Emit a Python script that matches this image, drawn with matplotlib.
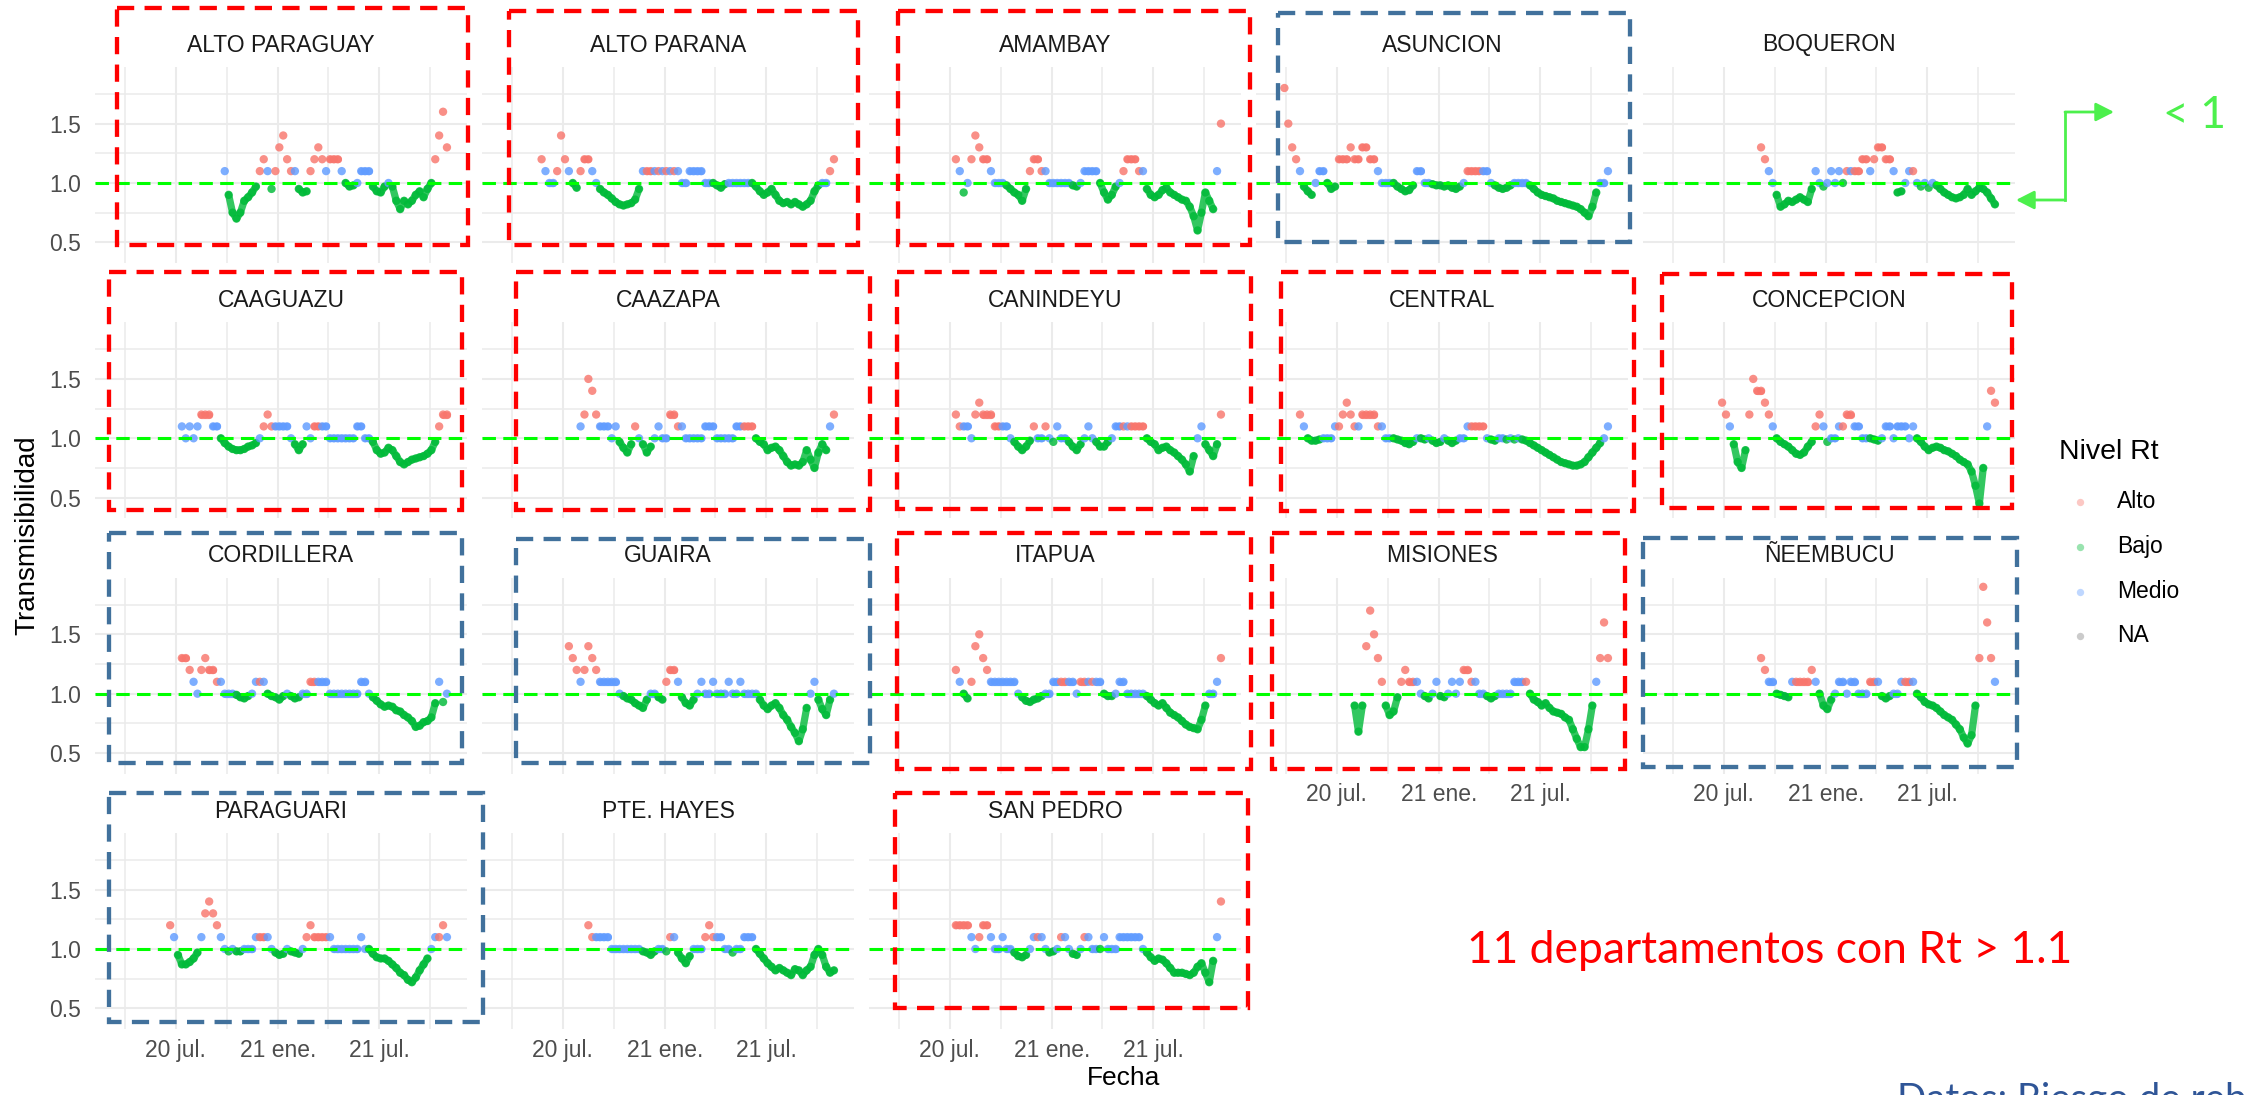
import matplotlib
matplotlib.use("Agg")
import matplotlib.pyplot as plt
import matplotlib.dates as mdates
from matplotlib.patches import Rectangle
import pandas as pd

plt.rcParams["font.family"] = ["Liberation Sans", "DejaVu Sans"]

# ------------------------------------------------------------------ data
A, B, M = "Alto", "Bajo", "Medio"
NIVELES = ["Alto", "Bajo", "Medio", "NA"]
COLOR_NIVEL = {"Alto": "#F8766D", "Bajo": "#00BA38", "Medio": "#619CFF", "NA": "#7F7F7F"}

# weekly readings (Rt, Nivel) starting at the given date
ALTO_PARAGUAY_INICIO = "2020-09-27"
ALTO_PARAGUAY = [
    (1.1, M), (0.90, B), (0.75, B), (0.70, B), (0.75, B), (0.85, B), (0.88, B), (0.92, B), (0.97, B), (1.1, A),
    (1.2, A), (1.1, M), (0.95, B), (1.1, A), (1.3, A), (1.4, A), (1.2, A), (1.1, A), (1.1, M), (0.95, B),
    (0.92, B), (0.93, B), (1.1, A), (1.2, A), (1.3, A), (1.2, A), (1.1, M), (1.2, A), (1.2, A), (1.2, A),
    (1.1, M), (1.0, B), (0.97, B), (0.98, B), (1.0, M), (1.1, M), (1.1, M), (1.1, M), (0.97, B), (0.93, B),
    (0.92, B), (0.97, B), (1.0, M), (0.97, B), (0.85, B), (0.78, B), (0.85, B), (0.82, B), (0.85, B), (0.90, B),
    (0.93, B), (0.88, B), (0.95, B), (1.0, B), (1.2, A), (1.4, A), (1.6, A), (1.3, A),
]

ALTO_PARANA_INICIO = "2020-05-24"
ALTO_PARANA = [
    (1.2, A), (1.1, M), (1.0, M), (1.0, M), (1.1, A), (1.4, A), (1.2, A), (1.1, M), (1.0, B), (0.96, B),
    (1.1, A), (1.2, A), (1.2, A), (1.1, M), (1.0, M), (0.95, B), (0.92, B), (0.90, B), (0.87, B), (0.84, B),
    (0.82, B), (0.81, B), (0.82, B), (0.83, B), (0.86, B), (0.95, B), (1.1, M), (1.1, A), (1.1, A), (1.1, M),
    (1.1, A), (1.1, M), (1.1, A), (1.1, M), (1.1, A), (1.1, M), (1.0, M), (1.0, M), (1.1, M), (1.1, M),
    (1.1, M), (1.1, M), (1.0, M), (1.0, M), (1.0, B), (0.98, B), (0.96, B), (0.99, B), (1.0, M), (1.0, M),
    (1.0, M), (1.0, M), (1.0, M), (1.0, M), (1.0, B), (0.97, B), (0.93, B), (0.90, B), (0.92, B), (0.95, B),
    (0.90, B), (0.85, B), (0.83, B), (0.84, B), (0.82, B), (0.84, B), (0.82, B), (0.80, B), (0.82, B), (0.85, B),
    (0.93, B), (0.98, B), (1.0, M), (1.0, M), (1.1, A), (1.2, A),
]

AMAMBAY_INICIO = "2020-07-12"
AMAMBAY = [
    (1.2, A), (1.1, M), (0.92, B), (1.0, M), (1.2, A), (1.4, A), (1.3, A), (1.2, A), (1.2, A), (1.1, M),
    (1.0, M), (1.0, M), (1.0, M), (0.98, B), (0.95, B), (0.92, B), (0.90, B), (0.85, B), (0.95, B), (1.1, A),
    (1.2, A), (1.2, A), (1.1, A), (1.1, M), (1.0, M), (1.0, M), (1.0, M), (1.0, M), (1.0, M), (1.0, M),
    (0.98, B), (0.97, B), (1.0, M), (1.1, M), (1.1, M), (1.1, M), (1.1, M), (1.0, B), (0.92, B), (0.86, B),
    (0.90, B), (0.97, B), (1.0, M), (1.1, A), (1.2, A), (1.2, A), (1.2, A), (1.1, A), (1.1, M), (0.95, B),
    (0.90, B), (0.88, B), (0.90, B), (0.94, B), (0.96, B), (0.92, B), (0.90, B), (0.88, B), (0.86, B), (0.85, B),
    (0.80, B), (0.72, B), (0.60, B), (0.75, B), (0.92, B), (0.85, B), (0.78, B), (1.1, M), (1.5, A),
]

ASUNCION_INICIO = "2020-03-29"
ASUNCION = [
    (1.8, A), (1.5, A), (1.3, A), (1.2, A), (1.1, M), (0.97, B), (0.93, B), (0.90, B), (1.0, M), (1.1, M),
    (1.1, M), (1.0, B), (0.95, B), (0.97, B), (1.2, A), (1.2, A), (1.2, A), (1.3, A), (1.2, A), (1.2, A),
    (1.3, A), (1.3, A), (1.2, A), (1.2, A), (1.1, M), (1.0, M), (1.0, M), (1.0, M), (1.0, B), (0.97, B),
    (0.95, B), (0.93, B), (0.94, B), (0.98, B), (1.1, M), (1.1, M), (1.0, M), (1.0, M), (0.99, B), (0.98, B),
    (0.98, B), (0.97, B), (0.98, B), (0.96, B), (0.95, B), (0.97, B), (1.0, M), (1.1, A), (1.1, A), (1.1, A),
    (1.1, A), (1.1, M), (1.1, M), (1.0, M), (0.98, B), (0.96, B), (0.95, B), (0.96, B), (0.98, B), (1.0, M),
    (1.0, M), (1.0, M), (1.0, M), (0.98, B), (0.95, B), (0.92, B), (0.90, B), (0.89, B), (0.88, B), (0.87, B),
    (0.85, B), (0.84, B), (0.83, B), (0.82, B), (0.81, B), (0.80, B), (0.78, B), (0.75, B), (0.72, B), (0.80, B),
    (0.92, B), (1.0, M), (1.0, M), (1.1, M),
]

BOQUERON_INICIO = "2020-09-06"
BOQUERON = [
    (1.3, A), (1.2, A), (1.1, M), (1.0, M), (0.90, B), (0.80, B), (0.82, B), (0.85, B), (0.84, B), (0.86, B),
    (0.88, B), (0.86, B), (0.84, B), (0.95, B), (1.1, M), (1.0, M), (0.97, B), (1.0, M), (1.1, M), (1.0, M),
    (1.1, M), (1.0, B), (1.1, A), (1.1, M), (1.1, A), (1.1, A), (1.2, A), (1.2, A), (1.1, M), (1.2, A),
    (1.3, A), (1.3, A), (1.2, A), (1.2, A), (1.1, M), (0.92, B), (0.93, B), (1.0, M), (1.1, M), (1.1, A),
    (1.0, M), (0.97, B), (1.0, M), (0.96, B), (1.0, M), (0.98, B), (0.95, B), (0.92, B), (0.90, B), (0.88, B),
    (0.87, B), (0.88, B), (0.90, B), (0.95, B), (0.90, B), (0.93, B), (0.96, B), (0.95, B), (0.92, B), (0.87, B),
    (0.82, B),
]

CAAGUAZU_INICIO = "2020-07-12"
CAAGUAZU = [
    (1.1, M), (1.0, M), (1.1, M), (1.0, M), (1.1, M), (1.2, A), (1.2, A), (1.2, A), (1.1, M), (1.1, M),
    (1.0, B), (0.96, B), (0.93, B), (0.91, B), (0.90, B), (0.90, B), (0.91, B), (0.93, B), (0.94, B), (0.96, B),
    (1.0, M), (1.1, A), (1.2, A), (1.1, A), (1.1, M), (1.1, M), (1.1, M), (1.1, M), (1.0, M), (0.95, B),
    (0.90, B), (0.95, B), (1.1, M), (1.0, M), (1.1, A), (1.1, A), (1.1, M), (1.1, M), (1.0, M), (1.0, M),
    (1.0, M), (1.0, M), (1.0, M), (1.0, M), (1.0, M), (1.1, M), (1.1, M), (1.0, M), (1.0, M), (0.97, B),
    (0.90, B), (0.87, B), (0.88, B), (0.92, B), (0.90, B), (0.85, B), (0.80, B), (0.78, B), (0.80, B), (0.82, B),
    (0.83, B), (0.84, B), (0.85, B), (0.87, B), (0.90, B), (0.97, B), (1.1, A), (1.2, A), (1.2, A),
]

CAAZAPA_INICIO = "2020-08-02"
CAAZAPA = [
    (1.1, M), (1.2, A), (1.5, A), (1.4, A), (1.2, A), (1.1, M), (1.1, M), (1.1, M), (1.0, M), (1.1, M),
    (0.97, B), (0.92, B), (0.88, B), (0.95, B), (1.1, A), (1.0, M), (0.95, B), (0.88, B), (0.93, B), (1.0, M),
    (1.1, M), (1.0, M), (1.0, M), (1.2, A), (1.2, A), (1.1, A), (1.1, M), (1.0, M), (1.0, M), (1.0, M),
    (1.0, M), (1.0, M), (1.1, M), (1.1, M), (1.1, M), (1.0, M), (1.0, M), (1.0, M), (1.0, M), (1.0, M),
    (1.1, M), (1.1, M), (1.1, A), (1.1, A), (1.1, A), (1.0, B), (0.97, B), (0.95, B), (0.90, B), (0.92, B),
    (0.93, B), (0.90, B), (0.85, B), (0.80, B), (0.77, B), (0.78, B), (0.77, B), (0.80, B), (0.90, B), (0.82, B),
    (0.75, B), (0.88, B), (0.95, B), (0.90, B), (1.1, M), (1.2, A),
]

CANINDEYU_INICIO = "2020-07-12"
CANINDEYU = [
    (1.2, A), (1.1, A), (1.1, M), (1.1, M), (1.0, M), (1.2, A), (1.3, A), (1.2, A), (1.2, A), (1.2, A),
    (1.1, A), (1.1, A), (1.1, M), (1.1, M), (1.0, M), (0.97, B), (0.93, B), (0.90, B), (0.93, B), (0.98, B),
    (1.1, A), (1.0, M), (1.0, M), (1.1, A), (1.0, M), (0.97, B), (1.1, M), (1.0, M), (1.0, M), (0.97, B),
    (0.93, B), (0.90, B), (0.95, B), (1.0, M), (1.1, M), (1.0, M), (0.97, B), (0.93, B), (0.93, B), (0.97, B),
    (1.0, M), (1.1, M), (1.1, M), (1.1, A), (1.1, M), (1.1, A), (1.1, A), (1.1, A), (1.1, A), (1.0, B),
    (0.97, B), (0.95, B), (0.90, B), (0.92, B), (0.93, B), (0.90, B), (0.88, B), (0.85, B), (0.82, B), (0.78, B),
    (0.72, B), (0.85, B), (1.0, M), (1.1, M), (0.95, B), (0.90, B), (0.85, B), (0.95, B), (1.2, A),
]

CENTRAL_INICIO = "2020-04-26"
CENTRAL = [
    (1.2, A), (1.1, M), (1.0, B), (0.98, B), (0.98, B), (0.99, B), (1.0, M), (1.0, M), (1.0, M), (1.1, M),
    (1.1, A), (1.2, A), (1.3, A), (1.2, A), (1.1, A), (1.1, M), (1.2, A), (1.2, A), (1.2, A), (1.2, A),
    (1.1, A), (1.1, M), (1.0, M), (1.0, M), (1.0, B), (0.99, B), (0.98, B), (0.96, B), (0.95, B), (0.97, B),
    (1.0, M), (1.0, B), (0.99, B), (1.0, M), (0.98, B), (0.96, B), (0.97, B), (1.0, M), (0.98, B), (0.96, B),
    (0.98, B), (1.0, M), (1.0, M), (1.1, M), (1.1, A), (1.1, A), (1.1, A), (1.1, A), (1.0, M), (0.99, B),
    (0.98, B), (1.0, M), (1.0, M), (0.99, B), (1.0, M), (0.99, B), (1.0, M), (0.99, B), (0.98, B), (0.96, B),
    (0.94, B), (0.92, B), (0.90, B), (0.88, B), (0.86, B), (0.84, B), (0.82, B), (0.80, B), (0.79, B), (0.78, B),
    (0.77, B), (0.77, B), (0.78, B), (0.80, B), (0.84, B), (0.88, B), (0.92, B), (0.96, B), (1.0, M), (1.1, M),
]

CONCEPCION_INICIO = "2020-06-28"
CONCEPCION = [
    (1.3, A), (1.2, A), (1.1, M), (0.95, B), (0.80, B), (0.75, B), (0.90, B), (1.2, A), (1.5, A), (1.4, A),
    (1.4, A), (1.3, A), (1.2, A), (1.1, M), (1.0, B), (0.97, B), (0.95, B), (0.93, B), (0.90, B), (0.87, B),
    (0.86, B), (0.88, B), (0.93, B), (0.97, B), (1.1, A), (1.2, A), (1.1, M), (0.97, B), (1.0, M), (1.0, M),
    (1.1, M), (1.1, A), (1.2, A), (1.2, A), (1.1, M), (1.1, M), (1.0, M), (1.0, M), (1.0, B), (0.99, B),
    (0.98, B), (1.0, M), (1.1, M), (1.1, M), (1.0, M), (1.1, M), (1.1, M), (1.1, M), (1.0, M), (1.1, M),
    (1.0, B), (0.97, B), (0.93, B), (0.90, B), (0.92, B), (0.93, B), (0.92, B), (0.90, B), (0.89, B), (0.87, B),
    (0.85, B), (0.82, B), (0.80, B), (0.78, B), (0.72, B), (0.60, B), (0.45, B), (0.75, B), (1.1, M), (1.4, A),
    (1.3, A),
]

CORDILLERA_INICIO = "2020-07-12"
CORDILLERA = [
    (1.3, A), (1.3, A), (1.2, A), (1.1, M), (1.0, M), (1.2, A), (1.3, A), (1.2, A), (1.2, A), (1.1, A),
    (1.1, M), (1.0, M), (1.0, M), (1.0, M), (0.99, B), (0.97, B), (0.96, B), (0.98, B), (1.0, M), (1.1, M),
    (1.1, A), (1.1, M), (1.0, B), (0.98, B), (0.97, B), (0.95, B), (0.98, B), (1.0, M), (0.98, B), (0.96, B),
    (0.97, B), (1.0, M), (1.0, M), (1.1, A), (1.1, A), (1.1, M), (1.1, M), (1.1, M), (1.0, M), (1.0, M),
    (1.0, M), (1.0, M), (1.0, M), (1.0, M), (1.0, M), (1.0, M), (1.1, M), (1.1, M), (1.0, M), (0.97, B),
    (0.94, B), (0.91, B), (0.89, B), (0.90, B), (0.89, B), (0.86, B), (0.85, B), (0.82, B), (0.80, B), (0.77, B),
    (0.72, B), (0.73, B), (0.76, B), (0.77, B), (0.80, B), (0.92, B), (1.1, M), (0.93, B), (1.0, M),
]

GUAIRA_INICIO = "2020-07-12"
GUAIRA = [
    (1.4, A), (1.3, A), (1.2, A), (1.1, M), (1.2, A), (1.4, A), (1.3, A), (1.2, A), (1.1, M), (1.1, M),
    (1.1, M), (1.1, M), (1.1, M), (1.0, M), (0.98, B), (0.96, B), (0.95, B), (0.92, B), (0.90, B), (0.88, B),
    (0.95, B), (1.0, M), (1.0, M), (0.97, B), (0.95, B), (1.1, A), (1.2, A), (1.2, A), (1.1, M), (0.97, B),
    (0.92, B), (0.90, B), (0.95, B), (1.0, M), (1.1, M), (1.0, M), (1.0, M), (1.1, M), (1.0, M), (1.0, M),
    (1.0, M), (1.1, M), (1.0, M), (1.0, M), (1.1, M), (1.0, M), (1.0, M), (1.0, M), (1.0, M), (0.95, B),
    (0.90, B), (0.87, B), (0.90, B), (0.92, B), (0.88, B), (0.82, B), (0.78, B), (0.72, B), (0.67, B), (0.60, B),
    (0.70, B), (0.88, B), (1.0, M), (1.1, M), (0.95, B), (0.87, B), (0.82, B), (0.95, B), (1.0, M),
]

ITAPUA_INICIO = "2020-07-12"
ITAPUA = [
    (1.2, A), (1.1, M), (1.0, B), (0.96, B), (1.1, A), (1.4, A), (1.5, A), (1.3, A), (1.2, A), (1.1, M),
    (1.1, M), (1.1, M), (1.1, M), (1.1, M), (1.1, M), (1.1, M), (1.0, M), (0.97, B), (0.94, B), (0.93, B),
    (0.95, B), (0.96, B), (0.98, B), (1.0, M), (1.0, M), (1.1, M), (1.1, M), (1.1, A), (1.1, A), (1.1, M),
    (1.1, M), (1.0, M), (1.1, A), (1.1, A), (1.1, M), (1.1, A), (1.1, M), (1.1, M), (1.0, B), (0.98, B),
    (0.98, B), (1.0, M), (1.1, M), (1.1, M), (1.0, M), (1.0, M), (1.0, M), (1.0, M), (1.0, M), (0.98, B),
    (0.95, B), (0.92, B), (0.90, B), (0.92, B), (0.88, B), (0.84, B), (0.82, B), (0.80, B), (0.77, B), (0.74, B),
    (0.72, B), (0.71, B), (0.70, B), (0.78, B), (0.90, B), (1.0, M), (1.0, M), (1.1, M), (1.3, A),
]

MISIONES_INICIO = "2020-08-02"
MISIONES = [
    (0.90, B), (0.68, B), (0.90, B), (1.4, A), (1.7, A), (1.5, A), (1.3, A), (1.1, A), (0.90, B), (0.82, B),
    (0.85, B), (0.97, B), (1.1, A), (1.2, A), (1.1, A), (1.1, A), (1.1, M), (1.0, M), (0.98, B), (0.96, B),
    (1.0, M), (1.1, M), (0.98, B), (0.97, B), (1.0, M), (1.1, M), (1.0, M), (1.1, M), (1.2, A), (1.2, A),
    (1.1, A), (1.1, M), (1.0, M), (1.0, M), (0.98, B), (0.96, B), (0.98, B), (1.0, M), (1.0, M), (1.0, M),
    (1.0, M), (1.1, M), (1.1, M), (1.1, M), (1.1, A), (1.0, B), (0.95, B), (0.93, B), (0.90, B), (0.92, B),
    (0.88, B), (0.85, B), (0.84, B), (0.83, B), (0.80, B), (0.78, B), (0.70, B), (0.62, B), (0.55, B), (0.55, B),
    (0.70, B), (0.90, B), (1.1, M), (1.3, A), (1.6, A), (1.3, A),
]

NEEMBUCU_INICIO = "2020-09-06"
NEEMBUCU = [
    (1.3, A), (1.2, A), (1.1, M), (1.1, M), (1.0, B), (0.99, B), (0.98, B), (0.97, B), (1.1, M), (1.1, A),
    (1.1, A), (1.1, A), (1.1, A), (1.2, A), (1.1, M), (1.0, B), (0.90, B), (0.87, B), (0.95, B), (1.0, M),
    (1.1, M), (1.1, M), (1.0, M), (1.1, M), (1.1, M), (1.0, M), (1.0, M), (1.0, M), (1.1, A), (1.1, A),
    (1.1, M), (0.98, B), (0.96, B), (0.98, B), (1.0, M), (1.0, M), (1.1, M), (1.1, A), (1.1, A), (1.1, M),
    (1.0, B), (0.97, B), (0.93, B), (0.91, B), (0.90, B), (0.88, B), (0.85, B), (0.82, B), (0.80, B), (0.78, B),
    (0.74, B), (0.70, B), (0.63, B), (0.58, B), (0.65, B), (0.90, B), (1.3, A), (1.9, A), (1.6, A), (1.3, A),
    (1.1, M),
]

PARAGUARI_INICIO = "2020-06-21"
PARAGUARI = [
    (1.2, A), (1.1, M), (0.95, B), (0.87, B), (0.87, B), (0.89, B), (0.92, B), (0.97, B), (1.1, M), (1.3, A),
    (1.4, A), (1.3, A), (1.2, A), (1.1, M), (1.0, M), (0.98, B), (1.0, M), (0.98, B), (0.98, B), (1.0, M),
    (1.0, M), (1.0, M), (1.1, M), (1.1, A), (1.1, A), (1.1, M), (1.0, M), (0.97, B), (0.95, B), (0.96, B),
    (1.0, M), (0.98, B), (0.97, B), (0.96, B), (1.0, M), (1.1, A), (1.2, A), (1.1, A), (1.1, A), (1.1, A),
    (1.1, A), (1.1, M), (1.0, M), (1.0, M), (1.0, M), (1.0, M), (1.0, M), (1.0, M), (1.0, M), (1.1, M),
    (1.0, M), (1.0, B), (0.96, B), (0.93, B), (0.92, B), (0.92, B), (0.90, B), (0.87, B), (0.84, B), (0.80, B),
    (0.78, B), (0.74, B), (0.72, B), (0.76, B), (0.82, B), (0.87, B), (0.92, B), (1.0, M), (1.1, M), (1.1, A),
    (1.2, A), (1.1, M),
]

PTE_HAYES_INICIO = "2020-08-16"
PTE_HAYES = [
    (1.2, A), (1.1, A), (1.1, M), (1.1, M), (1.1, M), (1.1, M), (1.0, M), (1.0, M), (1.0, M), (1.0, M),
    (1.0, M), (1.0, M), (1.0, M), (1.0, M), (0.98, B), (0.97, B), (0.95, B), (0.98, B), (1.0, M), (1.0, M),
    (0.98, B), (1.1, A), (1.1, M), (0.97, B), (0.92, B), (0.88, B), (0.94, B), (1.0, M), (1.0, M), (1.0, M),
    (1.1, A), (1.2, A), (1.1, A), (1.1, M), (1.1, M), (1.0, M), (1.0, M), (0.97, B), (1.0, M), (1.0, M),
    (1.1, M), (1.1, M), (1.1, M), (1.0, B), (0.96, B), (0.92, B), (0.88, B), (0.85, B), (0.82, B), (0.84, B),
    (0.82, B), (0.80, B), (0.78, B), (0.83, B), (0.82, B), (0.78, B), (0.82, B), (0.85, B), (0.95, B), (1.0, B),
    (0.95, B), (0.85, B), (0.80, B), (0.82, B),
]

SAN_PEDRO_INICIO = "2020-07-12"
SAN_PEDRO = [
    (1.2, A), (1.2, A), (1.2, A), (1.2, A), (1.1, M), (1.0, M), (1.1, A), (1.2, A), (1.2, A), (1.1, M),
    (1.0, M), (1.0, M), (1.1, M), (1.0, M), (1.0, M), (0.97, B), (0.94, B), (0.93, B), (0.95, B), (1.0, M),
    (1.1, M), (1.1, A), (1.1, M), (1.0, M), (0.97, B), (0.98, B), (1.0, M), (1.1, A), (1.1, M), (1.0, M),
    (0.96, B), (0.95, B), (1.0, M), (1.1, A), (1.1, M), (1.0, M), (1.0, M), (1.0, B), (1.1, M), (1.0, M),
    (1.0, M), (1.0, M), (1.1, M), (1.1, M), (1.1, M), (1.1, M), (1.1, M), (1.1, M), (1.0, M), (0.97, B),
    (0.93, B), (0.90, B), (0.92, B), (0.91, B), (0.88, B), (0.84, B), (0.80, B), (0.80, B), (0.80, B), (0.79, B),
    (0.78, B), (0.80, B), (0.85, B), (0.88, B), (0.80, B), (0.72, B), (0.90, B), (1.1, M), (1.4, A),
]

PANELES = [
    ("ALTO PARAGUAY", ALTO_PARAGUAY_INICIO, ALTO_PARAGUAY),
    ("ALTO PARANA", ALTO_PARANA_INICIO, ALTO_PARANA),
    ("AMAMBAY", AMAMBAY_INICIO, AMAMBAY),
    ("ASUNCION", ASUNCION_INICIO, ASUNCION),
    ("BOQUERON", BOQUERON_INICIO, BOQUERON),
    ("CAAGUAZU", CAAGUAZU_INICIO, CAAGUAZU),
    ("CAAZAPA", CAAZAPA_INICIO, CAAZAPA),
    ("CANINDEYU", CANINDEYU_INICIO, CANINDEYU),
    ("CENTRAL", CENTRAL_INICIO, CENTRAL),
    ("CONCEPCION", CONCEPCION_INICIO, CONCEPCION),
    ("CORDILLERA", CORDILLERA_INICIO, CORDILLERA),
    ("GUAIRA", GUAIRA_INICIO, GUAIRA),
    ("ITAPUA", ITAPUA_INICIO, ITAPUA),
    ("MISIONES", MISIONES_INICIO, MISIONES),
    ("ÑEEMBUCU", NEEMBUCU_INICIO, NEEMBUCU),
    ("PARAGUARI", PARAGUARI_INICIO, PARAGUARI),
    ("PTE. HAYES", PTE_HAYES_INICIO, PTE_HAYES),
    ("SAN PEDRO", SAN_PEDRO_INICIO, SAN_PEDRO),
]

FECHAS_MAYORES = ["2020-07-01", "2021-01-01", "2021-07-01"]
ETIQUETAS_X = ["20 jul.", "21 ene.", "21 jul."]
FECHAS_MENORES = ["2020-04-01", "2020-10-01", "2021-04-01", "2021-10-01"]
Y_MAYORES = [0.5, 1.0, 1.5]
ETIQUETAS_Y = ["0.5", "1.0", "1.5"]
Y_MENORES = [0.75, 1.25, 1.75]
UMBRAL = 1.0
RANGO_X = ("2020-02-07", "2021-12-06")
RANGO_Y = (0.326, 1.977)

TITULO_X = "Fecha"
TITULO_Y = "Transmisibilidad"
TITULO_LEYENDA = "Nivel Rt"
NOTA_ROJA = "11 departamentos con Rt > 1.1"
NOTA_VERDE = "< 1"
NOTA_FUENTE = "Datos: Riesgo de rebrote"

# ------------------------------------------------------------------ layout
W, H, DPI = 2249, 1095, 100
fig = plt.figure(figsize=(W / DPI, H / DPI), dpi=DPI)
fig.patch.set_facecolor("white")

COL_LEFT = [95, 482, 869, 1256, 1643]
ROW_TOP = [67, 322.3, 577.7, 833]
PW, PH = 372, 196

def d2n(s):
    return mdates.date2num(pd.Timestamp(s).to_pydatetime())

xmaj = [d2n(s) for s in FECHAS_MAYORES]
xmin = [d2n(s) for s in FECHAS_MENORES]


def tramos(xs, ys, niveles):
    """Consecutive weekly readings of the same level that the daily dots join up."""
    out = []
    cur = [0]
    for k in range(1, len(ys)):
        same = niveles[k] == niveles[k - 1]
        if same and (niveles[k] == B or abs(ys[k] - ys[k - 1]) < 1e-9):
            cur.append(k)
        else:
            out.append(cur)
            cur = [k]
    out.append(cur)
    return [t for t in out if len(t) > 1]


for i, (nombre, inicio, serie) in enumerate(PANELES):
    r, c = divmod(i, 5)
    ax = fig.add_axes([COL_LEFT[c] / W, 1 - (ROW_TOP[r] + PH) / H, PW / W, PH / H])
    fechas = pd.date_range(inicio, periods=len(serie), freq="7D")
    xs = mdates.date2num(fechas.to_pydatetime())
    ys = [v for v, _ in serie]
    nv = [n for _, n in serie]
    cs = [COLOR_NIVEL[n] for n in nv]
    for t in tramos(xs, ys, nv):
        ax.plot([xs[k] for k in t], [ys[k] for k in t], color=COLOR_NIVEL[nv[t[0]]],
                lw=5.2, alpha=0.8, solid_capstyle="round", solid_joinstyle="round", zorder=2.5)
    ax.scatter(xs, ys, c=cs, s=36, alpha=0.82, linewidths=0, zorder=3)
    ax.axhline(UMBRAL, color="#00FF00", lw=2.2, dashes=(4.4, 2.4), zorder=4)
    ax.set_xlim(d2n(RANGO_X[0]), d2n(RANGO_X[1]))
    ax.set_ylim(*RANGO_Y)
    ax.set_xticks(xmaj)
    ax.set_xticks(xmin, minor=True)
    ax.set_yticks(Y_MAYORES)
    ax.set_yticks(Y_MENORES, minor=True)
    ax.grid(which="major", color="#EBEBEB", lw=1.5)
    ax.grid(which="minor", color="#EBEBEB", lw=1.1)
    ax.set_axisbelow(True)
    for sp in ax.spines.values():
        sp.set_visible(False)
    ax.tick_params(which="both", length=0)
    ax.tick_params(axis="x", pad=7, labelsize=16.5, labelcolor="#4D4D4D")
    ax.tick_params(axis="y", pad=10, labelsize=16.5, labelcolor="#4D4D4D")
    if r == 3 or (r == 2 and c >= 3):
        ax.set_xticklabels(ETIQUETAS_X)
    else:
        ax.set_xticklabels([])
    if c == 0:
        ax.set_yticklabels(ETIQUETAS_Y)
    else:
        ax.set_yticklabels([])
    ax.text(0.5, 1 + 22 / PH, nombre, transform=ax.transAxes, ha="center",
            va="center", fontsize=16.5, color="#1A1A1A")

# overlay in pixel coordinates for titles, legend and slide annotations
ov = fig.add_axes([0, 0, 1, 1], zorder=10)
ov.set_xlim(0, W)
ov.set_ylim(H, 0)
ov.axis("off")

ov.text(1124, 1078, TITULO_X, ha="center", va="center", fontsize=19, color="black")
ov.text(27, 535, TITULO_Y, ha="center", va="center", rotation=90, fontsize=20, color="black")

# legend
ov.text(2059, 452, TITULO_LEYENDA, ha="left", va="center", fontsize=20.5, color="black")
for nivel, yy in zip(NIVELES, [502, 547, 592, 636]):
    ov.scatter([2080], [yy], s=28, color=COLOR_NIVEL[nivel], alpha=0.4, linewidths=0)
    ov.text(2117, yy, nivel, ha="left", va="center", fontsize=16.5, color="black")

# dashed boxes (slide annotations)
ROJO, AZUL = "#FF0000", "#41719C"
cajas = [
    (117, 8, 468, 245, ROJO), (509, 11, 858, 245, ROJO), (898, 11, 1250, 245, ROJO),
    (1278, 13, 1630, 242, AZUL),
    (109, 272, 462, 510, ROJO), (516, 272, 870, 510, ROJO), (897, 272, 1251, 509, ROJO),
    (1281, 272, 1634, 511, ROJO), (1662, 274, 2012, 508, ROJO),
    (109, 533, 462, 763, AZUL), (516, 539, 870, 763, AZUL), (897, 533, 1251, 769, ROJO),
    (1272, 533, 1625, 769, ROJO), (1643, 538, 2017, 767, AZUL),
    (109, 793, 483, 1022, AZUL), (895, 793, 1248, 1008, ROJO),
]
for x0, y0, x1, y1, col in cajas:
    ov.add_patch(Rectangle((x0, y0), x1 - x0, y1 - y0, fill=False, edgecolor=col,
                           lw=3.1, linestyle=(0, (4.0, 2.4)), joinstyle="miter"))

# green elbow arrow and "< 1"
VERDE = "#4CF04C"
ov.plot([2065, 2065], [112, 200], color=VERDE, lw=2.0, solid_capstyle="projecting")
arr = dict(arrowstyle="-|>,head_length=0.55,head_width=0.28", color=VERDE, lw=2.0,
           mutation_scale=20, shrinkA=0, shrinkB=0)
ov.annotate("", xy=(2016, 200), xytext=(2065, 200), arrowprops=arr)
ov.annotate("", xy=(2114, 112), xytext=(2065, 112), arrowprops=arr)
ov.text(2163, 128, NOTA_VERDE, ha="left", va="baseline", fontsize=32, color=VERDE,
        family=["Lato", "DejaVu Sans"])

# red note, fitted to its width on the slide
renderer = fig.canvas.get_renderer()
t_red = ov.text(1467, 963, NOTA_ROJA, ha="left", va="baseline", fontsize=34,
                color="#FF0000", family=["Lato", "DejaVu Sans"])
w = t_red.get_window_extent(renderer).width
fs_red = 34 * 606 / w
t_red.set_fontsize(fs_red)

# source line: only its upper part is inside the slide in the reference
fs_src = fs_red * 30 / 34.7
cap = 0.72 * fs_src * DPI / 72
ov.text(1897, 1083 + cap, NOTA_FUENTE, ha="left", va="baseline", fontsize=fs_src,
        color="#2F5597", family=["Lato", "DejaVu Sans"])

fig.savefig("out.png", dpi=DPI)
